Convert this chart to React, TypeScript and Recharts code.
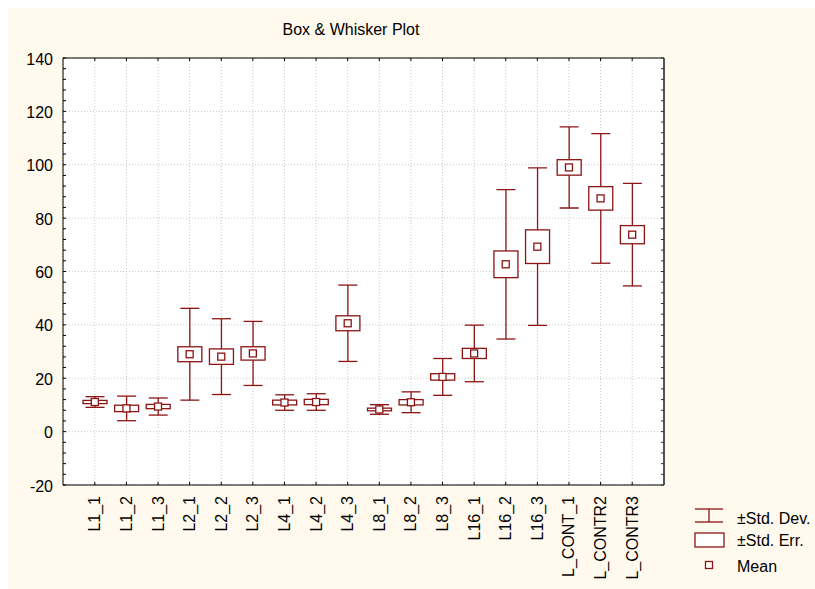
import React from "react";
import {
  ComposedChart,
  Bar,
  Scatter,
  XAxis,
  YAxis,
  CartesianGrid,
} from "recharts";

// groups on the x axis
const categories = [
  "L1_1", "L1_2", "L1_3", "L2_1", "L2_2", "L2_3", "L4_1", "L4_2", "L4_3",
  "L8_1", "L8_2", "L8_3", "L16_1", "L16_2", "L16_3", "L_CONT_1", "L_CONTR2", "L_CONTR3",
];

// values
const means = [11.1, 8.7, 9.4, 29.0, 28.1, 29.3, 10.9, 11.1, 40.6, 8.3, 11.0, 20.5, 29.3, 62.7, 69.3, 99.0, 87.4, 73.8];
const stdDev = [2.0, 4.6, 3.2, 17.2, 14.2, 12.0, 2.9, 3.1, 14.3, 1.8, 3.9, 6.9, 10.6, 28.0, 29.5, 15.2, 24.3, 19.2];
const stdErr = [0.6, 1.2, 0.8, 2.8, 2.9, 2.5, 0.9, 1.0, 2.8, 0.5, 1.0, 1.2, 1.9, 5.0, 6.3, 2.9, 4.4, 3.4];

const majorTicks = [-20, 0, 20, 40, 60, 80, 100, 120, 140];
const minorTicks = [-20, -16, -12, -8, -4, 0, 4, 8, 12, 16, 20, 24, 28, 32, 36, 40, 44, 48, 52, 56, 60, 64, 68, 72, 76, 80, 84, 88, 92, 96, 100, 104, 108, 112, 116, 120, 124, 128, 132, 136, 140];

const legendItems = ["±Std. Dev.", "±Std. Err.", "Mean"];

const data = categories.map((name, i) => ({
  name,
  mean: means[i],
  sd: stdDev[i],
  se: stdErr[i],
}));

const RED = "#8b1414";
const FONT = "'Liberation Sans', Arial, sans-serif";

// whisker: vertical line with caps, covering mean ± SD
function WhiskerShape(props: any) {
  const { x, y, width, height } = props;
  if (x == null || y == null) return null;
  const cx = x + width / 2;
  const top = Math.min(y, y + height);
  const bottom = Math.max(y, y + height);
  return (
    <g>
      <line x1={cx} y1={top} x2={cx} y2={bottom} stroke={RED} strokeWidth={1.3} />
      <line x1={cx - 9.5} y1={top} x2={cx + 9.5} y2={top} stroke={RED} strokeWidth={1.3} />
      <line x1={cx - 9.5} y1={bottom} x2={cx + 9.5} y2={bottom} stroke={RED} strokeWidth={1.3} />
    </g>
  );
}

// box: mean ± SE
function BoxShape(props: any) {
  const { x, y, width, height } = props;
  if (x == null || y == null) return null;
  const top = Math.min(y, y + height);
  const h = Math.abs(height);
  return <rect x={x} y={top} width={width} height={h} fill="#fff" stroke={RED} strokeWidth={1.3} />;
}

function MeanShape(props: any) {
  const { cx, cy } = props;
  if (cx == null || cy == null) return null;
  return <rect x={cx - 3.5} y={cy - 3.5} width={7} height={7} fill="#fff" stroke={RED} strokeWidth={1.3} />;
}

function LeftTick(props: any) {
  const { x, y, payload } = props;
  const v = payload.value;
  return (
    <g>
      <line x1={x} y1={y} x2={x + 3} y2={y} stroke="#000" />
      {majorTicks.includes(v) && (
        <text x={x - 10} y={y + 1} textAnchor="end" dominantBaseline="central" fontSize={16} fontFamily={FONT} fill="#000">
          {v}
        </text>
      )}
    </g>
  );
}

function RightTick(props: any) {
  const { x, y } = props;
  return <line x1={x} y1={y} x2={x - 3} y2={y} stroke="#333" />;
}

function BottomTick(props: any) {
  const { x, y, payload } = props;
  const ty = y + 11;
  return (
    <g>
      <line x1={x} y1={y} x2={x} y2={y - 3} stroke="#000" />
      <text
        x={x}
        y={ty}
        transform={`rotate(-90, ${x}, ${ty})`}
        textAnchor="end"
        dominantBaseline="central"
        fontSize={16}
        fontFamily={FONT}
        fill="#000"
      >
        {payload.value}
      </text>
    </g>
  );
}

function TopTick(props: any) {
  const { x, y } = props;
  return <line x1={x} y1={y} x2={x} y2={y + 3} stroke="#000" />;
}

function LegendBox() {
  return (
    <svg width={127} height={90} style={{ position: "absolute", left: 680, top: 490 }}>
      <g stroke={RED} strokeWidth={1.3} fill="#fff">
        <line x1={7} y1={11} x2={35} y2={11} />
        <line x1={7} y1={24} x2={35} y2={24} />
        <line x1={21} y1={11} x2={21} y2={24} />
        <rect x={7} y={35} width={29} height={14} />
        <rect x={17.5} y={63.5} width={7} height={7} />
      </g>
      {legendItems.map((label, i) => (
        <text key={label} x={49} y={[20, 42, 68][i]} dominantBaseline="central" fontSize={16} fontFamily={FONT} fill="#000">
          {label}
        </text>
      ))}
    </svg>
  );
}

export default function App() {
  return (
    <div
      style={{
        position: "absolute",
        left: 8,
        top: 8,
        width: 807,
        height: 581,
        background: "#fff9ee",
        fontFamily: FONT,
      }}
    >
      <div
        style={{
          position: "absolute",
          left: 0,
          width: 686,
          top: 13,
          textAlign: "center",
          fontSize: 16,
          color: "#000",
        }}
      >
        Box &amp; Whisker Plot
      </div>
      <ComposedChart
        width={807}
        height={581}
        data={data}
        margin={{ top: 49, right: 141, bottom: 0, left: 0 }}
        barGap={-24}
      >
        <CartesianGrid
          fill="#fff"
          stroke="#c8c8c8"
          strokeDasharray="1 2"
          horizontalValues={majorTicks}
        />
        <XAxis
          dataKey="name"
          height={104}
          interval={0}
          padding={{ left: 16, right: 16 }}
          axisLine={{ stroke: "#000" }}
          tickLine={false}
          tickSize={0}
          tickMargin={0}
          tick={<BottomTick />}
        />
        <XAxis
          xAxisId="top"
          orientation="top"
          dataKey="name"
          height={1}
          interval={0}
          padding={{ left: 16, right: 16 }}
          axisLine={{ stroke: "#000" }}
          tickLine={false}
          tickSize={0}
          tickMargin={0}
          tick={<TopTick />}
        />
        <YAxis
          type="number"
          domain={[-20, 140]}
          ticks={minorTicks}
          interval={0}
          width={55}
          axisLine={{ stroke: "#000" }}
          tickLine={false}
          tickSize={0}
          tickMargin={0}
          tick={<LeftTick />}
          allowDataOverflow
        />
        <YAxis
          yAxisId="right"
          orientation="right"
          type="number"
          domain={[-20, 140]}
          ticks={minorTicks}
          interval={0}
          width={10}
          axisLine={{ stroke: "#555", strokeWidth: 2 }}
          tickLine={false}
          tickSize={0}
          tickMargin={0}
          tick={<RightTick />}
          allowDataOverflow
        />
        <Bar
          dataKey={(d: any) => [d.mean - d.sd, d.mean + d.sd]}
          barSize={24}
          shape={<WhiskerShape />}
          isAnimationActive={false}
        />
        <Bar
          dataKey={(d: any) => [d.mean - d.se, d.mean + d.se]}
          barSize={24}
          shape={<BoxShape />}
          isAnimationActive={false}
        />
        <Scatter dataKey="mean" shape={<MeanShape />} isAnimationActive={false} />
      </ComposedChart>
      <LegendBox />
    </div>
  );
}
